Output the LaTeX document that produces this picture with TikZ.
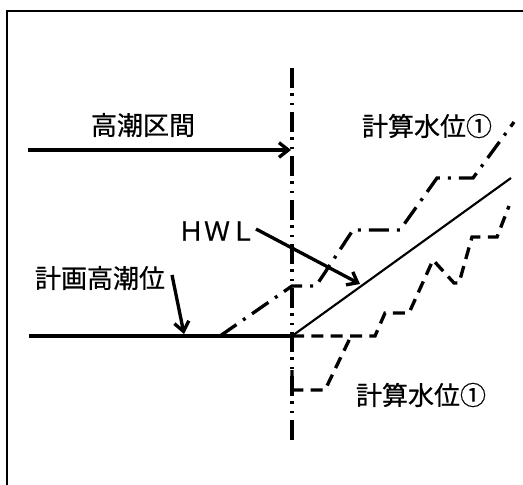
\documentclass[tikz,border=0pt]{standalone}
\usepackage{fontspec}
\setmainfont[BoldFont=Noto Sans CJK JP, BoldFeatures={FakeBold=0.6}]{Noto Sans CJK JP}
\usetikzlibrary{arrows.meta}
\begin{document}
\begin{tikzpicture}[x=0.75pt,y=-0.75pt,
  lbl/.style={font=\fontsize{19.5}{22}\selectfont\bfseries, inner sep=0pt, text=black},
  vline/.style={line width=2.4pt, dash pattern=on 15pt off 4pt on 2pt off 5pt on 2pt off 5pt},
  dashdotline/.style={line width=2.5pt, dash pattern=on 15pt off 6pt on 2.2pt off 6pt, line join=miter},
  dashline/.style={line width=2.5pt, dash pattern=on 9pt off 5.5pt, line join=miter},
  solidthick/.style={line width=2.3pt},
  solidthin/.style={line width=1.6pt},
  arr/.style={line width=2.5pt, -{Straight Barb[length=7pt,width=11pt,line width=2.5pt]}}
]
\useasboundingbox (0,0) rectangle (523,484);
\clip (0,0) rectangle (523,484);
% frame
\draw[line width=1.6pt] (7,500) -- (7,11) -- (540,11);

% key points
\coordinate (vtop) at (292,68);
\coordinate (vbot) at (292,443);
\coordinate (hl) at (29,336);
\coordinate (o) at (292,336);
\coordinate (hwlend) at (511,178);

% vertical dash-dot-dot line
\draw[vline] (vtop) -- (vbot);

% labels
\node[lbl] (kouchou) at (143,125) {高潮区間};
\node[lbl] (keisan1) at (427,126) {計算水位①};
\node[lbl] (hwl) at (217,231) {ＨＷＬ};
\node[lbl] (keikaku) at (100,278) {計画高潮位};
\node[lbl] (keisan2) at (421,395) {計算水位①};

% high tide section arrow
\coordinate (ks) at (28,150);
\coordinate (ke) at (291,150);
\draw[arr] (ks) -- (ke);

% planned high tide level
\draw[solidthick] (hl) -- (o);
% HWL slope
\draw[solidthin] (o) -- (hwlend);

% arrows from labels
\coordinate (k1) at (172,275);
\coordinate (k2) at (184,334);
\draw[arr] (k1) -- (k2);
\coordinate (h1) at (256,229);
\coordinate (h2) at (360,284);
\draw[arr] (h1) -- (h2);

% upper computed level (dash-dot)
\draw[dashdotline] (220,336) -- (292,286) -- (316,286) -- (353,230) -- (400,230)
  -- (437,178) -- (473,178) -- (514,122);

% lower computed level (dashed)
\draw[dashline] (o) -- (375,336) -- (385,313) -- (409,313) -- (433,260)
  -- (454,283) -- (459,283) -- (472,237) -- (497,237) -- (509,206);
\draw[dashline] (292,370) -- (292,390) -- (325,390) -- (352,334);
\end{tikzpicture}
\end{document}
